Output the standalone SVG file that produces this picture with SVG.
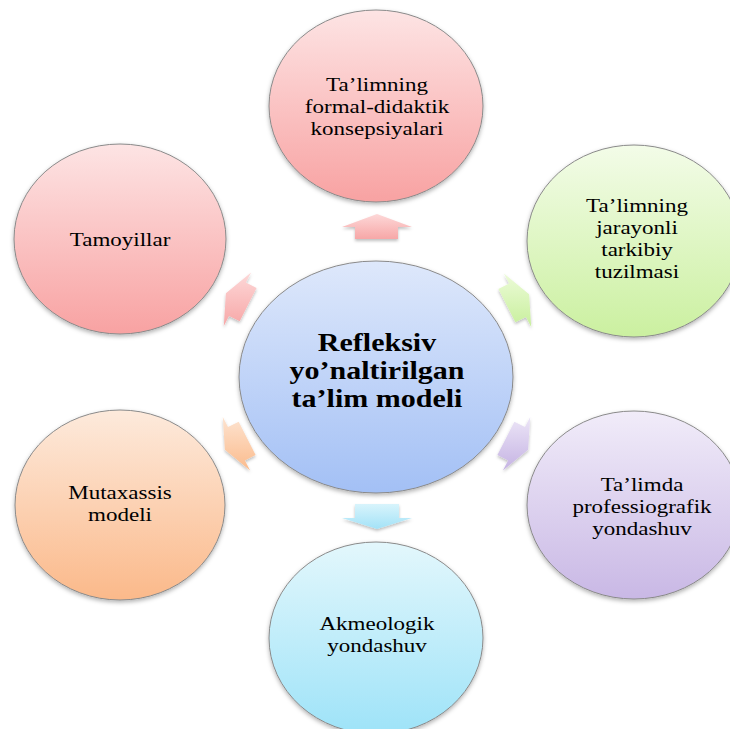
<svg xmlns="http://www.w3.org/2000/svg" width="730" height="729" viewBox="0 0 730 729">
<defs>
<style>
.c{stroke:#8a8a8a;stroke-width:1;filter:url(#sh)}
.a{filter:url(#sha)}
</style>
<filter id="sh" x="-10%" y="-10%" width="120%" height="125%"><feDropShadow dx="0" dy="2" stdDeviation="2" flood-color="#000" flood-opacity="0.3"/></filter>
<filter id="sha" x="-20%" y="-20%" width="140%" height="150%"><feDropShadow dx="0" dy="2" stdDeviation="1.5" flood-color="#000" flood-opacity="0.25"/></filter>
<linearGradient id="gPink" x1="0" y1="0" x2="0" y2="1"><stop offset="0" stop-color="#fde4e4"/><stop offset="1" stop-color="#f8a2a2"/></linearGradient>
<linearGradient id="gGreen" x1="0" y1="0" x2="0" y2="1"><stop offset="0" stop-color="#f3fce8"/><stop offset="1" stop-color="#cbf0a0"/></linearGradient>
<linearGradient id="gPurple" x1="0" y1="0" x2="0" y2="1"><stop offset="0" stop-color="#f1ecf9"/><stop offset="1" stop-color="#c9b8e5"/></linearGradient>
<linearGradient id="gBlue" x1="0" y1="0" x2="0" y2="1"><stop offset="0" stop-color="#e3f7fc"/><stop offset="1" stop-color="#9ee3f8"/></linearGradient>
<linearGradient id="gOrange" x1="0" y1="0" x2="0" y2="1"><stop offset="0" stop-color="#fdeadc"/><stop offset="1" stop-color="#fbb98a"/></linearGradient>
<linearGradient id="gCenter" x1="0" y1="0" x2="0" y2="1"><stop offset="0" stop-color="#dee8fb"/><stop offset="1" stop-color="#a3c0f5"/></linearGradient>
<linearGradient id="aPink" x1="0" y1="0" x2="0" y2="1"><stop offset="0" stop-color="#fdd8d8"/><stop offset="1" stop-color="#f7a7a7"/></linearGradient>
<linearGradient id="aGreen" x1="0" y1="0" x2="0" y2="1"><stop offset="0" stop-color="#ecfbd8"/><stop offset="1" stop-color="#c8ef9c"/></linearGradient>
<linearGradient id="aPurple" x1="0" y1="0" x2="0" y2="1"><stop offset="0" stop-color="#ece5f7"/><stop offset="1" stop-color="#c5b3e3"/></linearGradient>
<linearGradient id="aBlue" x1="0" y1="0" x2="0" y2="1"><stop offset="0" stop-color="#d8f4fc"/><stop offset="1" stop-color="#a3e2f7"/></linearGradient>
<linearGradient id="aOrange" x1="0" y1="0" x2="0" y2="1"><stop offset="0" stop-color="#fde3d0"/><stop offset="1" stop-color="#fbbb8c"/></linearGradient>
</defs>
<rect width="730" height="729" fill="#fff"/>

<g id="connectors">
<polygon class="a" fill="url(#aPink)" points="377,214 412,227 398,227 398,239 355,239 355,227 342,227"/>
<polygon class="a" fill="url(#aGreen)" points="529.1,294.3 503.9,273.5 509.1,283.6 498.4,289 515.4,322.3 526,316.9 531.2,327"/>
<polygon class="a" fill="url(#aPurple)" points="528.1,449.7 502.9,470.5 508.1,460.4 497.4,455 514.4,421.7 525,427.1 530.2,417"/>
<polygon class="a" fill="url(#aBlue)" points="355,504 399,504 399,518 412,518 377,529 342,518 355,518"/>
<polygon class="a" fill="url(#aOrange)" points="224.9,449.7 250.1,470.5 244.9,460.4 255.6,455 238.7,421.7 228,427.1 222.8,417"/>
<polygon class="a" fill="url(#aPink)" points="225.9,293.3 251.1,272.5 245.9,282.6 256.6,288 239.7,321.3 229,315.9 223.8,326"/>
</g>

<g id="center">
<ellipse class="c" cx="376" cy="377" rx="137" ry="116" fill="url(#gCenter)"/>
<g transform="translate(377 0) scale(1.2 1)" font-family="Liberation Serif, Times New Roman, DejaVu Serif, serif" font-size="25" font-weight="bold" text-anchor="middle" fill="#000">
<text x="0" y="351">Refleksiv</text>
<text x="0" y="379">yo’naltirilgan</text>
<text x="0" y="407">ta’lim modeli</text>
</g>
</g>

<g id="n-top">
<ellipse class="c" cx="376" cy="106" rx="107" ry="96" fill="url(#gPink)"/>
<g transform="translate(377 0) scale(1.18 1)" font-family="Liberation Serif, Times New Roman, DejaVu Serif, serif" font-size="19.5" text-anchor="middle" fill="#000">
<text x="0" y="91.5">Ta’limning</text>
<text x="0" y="113.5">formal-didaktik</text>
<text x="0" y="135.5">konsepsiyalari</text>
</g>
</g>

<g id="n-right-top">
<ellipse class="c" cx="634" cy="241" rx="107" ry="96" fill="url(#gGreen)"/>
<g transform="translate(637 0) scale(1.18 1)" font-family="Liberation Serif, Times New Roman, DejaVu Serif, serif" font-size="19.5" text-anchor="middle" fill="#000">
<text x="0" y="212">Ta’limning</text>
<text x="0" y="234">jarayonli</text>
<text x="0" y="256">tarkibiy</text>
<text x="0" y="278">tuzilmasi</text>
</g>
</g>

<g id="n-right-bottom">
<ellipse class="c" cx="634" cy="505" rx="107" ry="94" fill="url(#gPurple)"/>
<g transform="translate(642 0) scale(1.18 1)" font-family="Liberation Serif, Times New Roman, DejaVu Serif, serif" font-size="19.5" text-anchor="middle" fill="#000">
<text x="0" y="491">Ta’limda</text>
<text x="0" y="513">professiografik</text>
<text x="0" y="535">yondashuv</text>
</g>
</g>

<g id="n-bottom">
<ellipse class="c" cx="376" cy="638" rx="107" ry="96" fill="url(#gBlue)"/>
<g transform="translate(377 0) scale(1.18 1)" font-family="Liberation Serif, Times New Roman, DejaVu Serif, serif" font-size="19.5" text-anchor="middle" fill="#000">
<text x="0" y="630.5">Akmeologik</text>
<text x="0" y="652.5">yondashuv</text>
</g>
</g>

<g id="n-left-bottom">
<ellipse class="c" cx="120" cy="505" rx="105" ry="95" fill="url(#gOrange)"/>
<g transform="translate(120 0) scale(1.18 1)" font-family="Liberation Serif, Times New Roman, DejaVu Serif, serif" font-size="19.5" text-anchor="middle" fill="#000">
<text x="0" y="499.5">Mutaxassis</text>
<text x="0" y="521.5">modeli</text>
</g>
</g>

<g id="n-left-top">
<ellipse class="c" cx="120" cy="239" rx="106" ry="95" fill="url(#gPink)"/>
<g transform="translate(120 0) scale(1.18 1)" font-family="Liberation Serif, Times New Roman, DejaVu Serif, serif" font-size="19.5" text-anchor="middle" fill="#000">
<text x="0" y="246">Tamoyillar</text>
</g>
</g>
</svg>
